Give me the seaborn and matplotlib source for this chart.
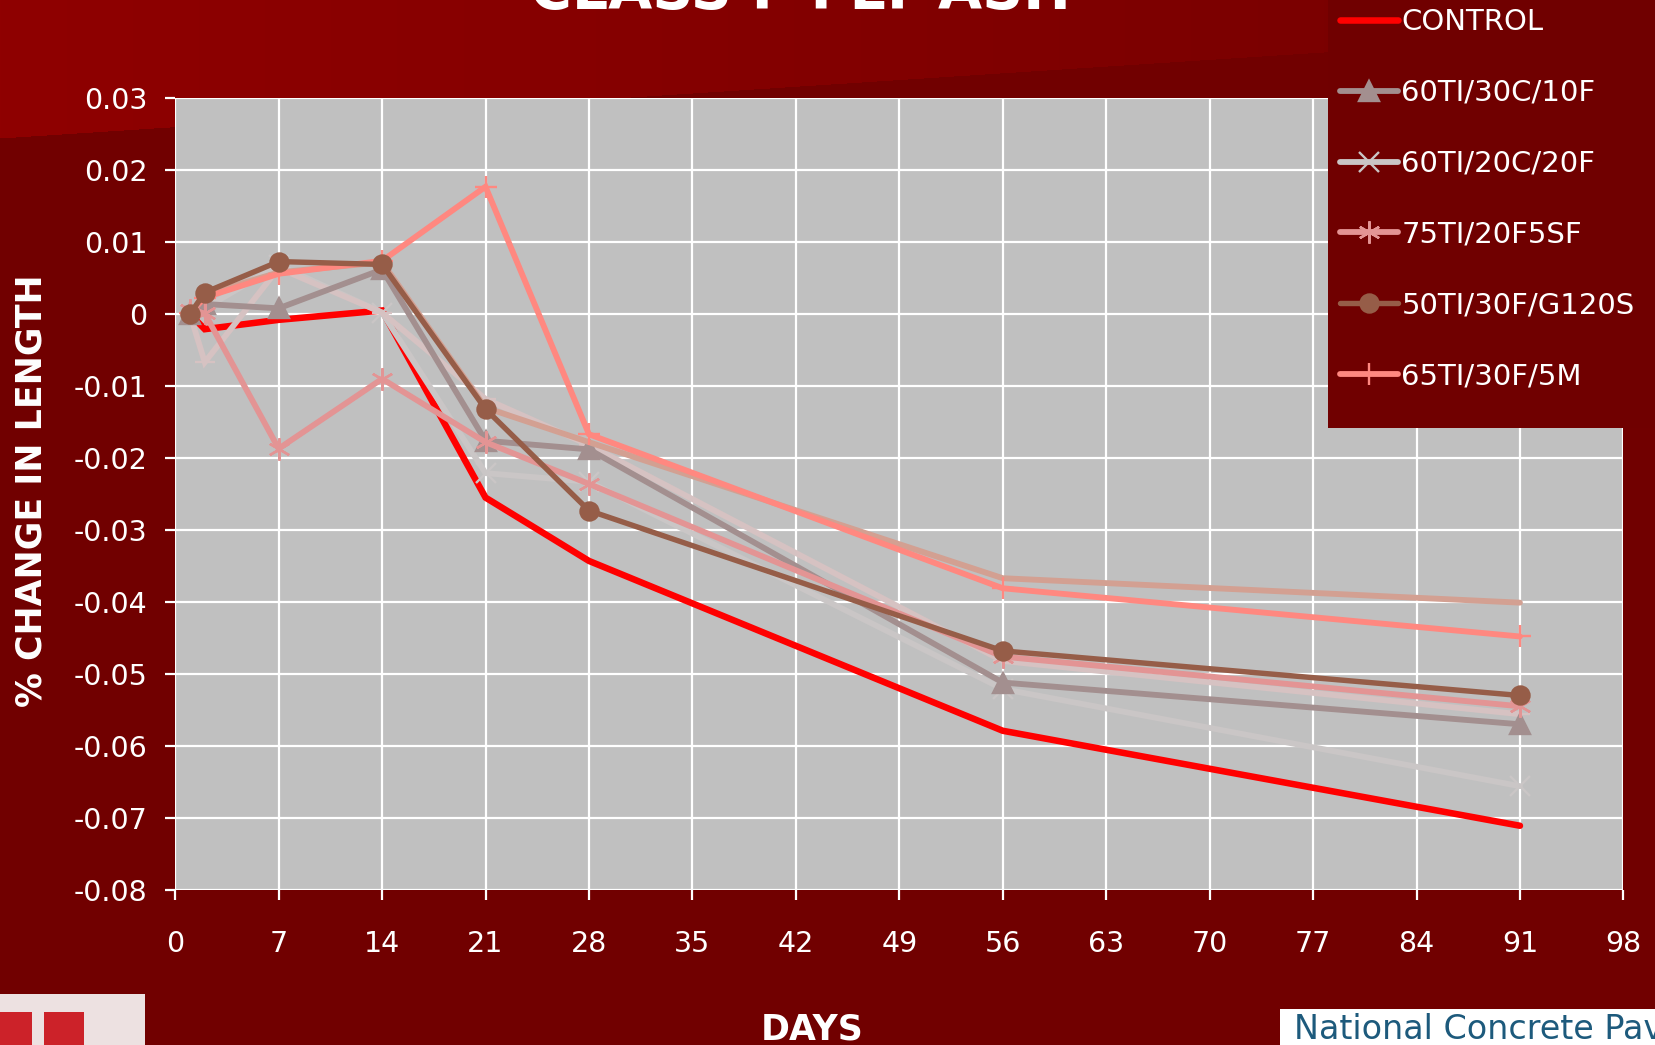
import numpy as np
import pandas as pd
import matplotlib
matplotlib.use("Agg")
import matplotlib.pyplot as plt
import seaborn as sns
from matplotlib.patches import Rectangle
from matplotlib.ticker import FuncFormatter

# ---- data: % change in length vs. age (days) ----
days = [1, 2, 7, 14, 21, 28, 56, 91]

control        = [0.0000, -0.0021, -0.0008, 0.0005, -0.0255, -0.0343, -0.0579, -0.0711]
ti60_c30_f10   = [0.0000, 0.0014, 0.0008, 0.0062, -0.0176, -0.0188, -0.0512, -0.0570]
ti60_c20_f20   = [0.0000, 0.0008, 0.0068, 0.0002, -0.0221, -0.0233, -0.0521, -0.0656]
ti75_f20_sf5   = [0.0005, 0.0001, -0.0187, -0.0090, -0.0178, -0.0236, -0.0476, -0.0545]
ti50_f30_g120s = [0.0000, 0.0030, 0.0073, 0.0069, -0.0132, -0.0273, -0.0468, -0.0530]
ti65_f30_m5    = [0.0001, 0.0023, 0.0056, 0.0074, 0.0177, -0.0167, -0.0381, -0.0448]
mix_7          = [0.0000, 0.0027, 0.0058, 0.0072, -0.0130, -0.0178, -0.0367, -0.0401]
mix_8          = [0.0000, -0.0067, 0.0064, 0.0002, -0.0118, -0.0182, -0.0482, -0.0556]

legend_names = ["CONTROL", "60TI/30C/10F", "60TI/20C/20F",
                "75TI/20F5SF", "50TI/30F/G120S", "65TI/30F/5M"]

x_ticks = list(range(0, 99, 7))
y_ticks = [0.03, 0.02, 0.01, 0.0, -0.01, -0.02, -0.03, -0.04, -0.05, -0.06, -0.07, -0.08]

series = {
    "CONTROL": control,
    "60TI/30C/10F": ti60_c30_f10,
    "60TI/20C/20F": ti60_c20_f20,
    "75TI/20F5SF": ti75_f20_sf5,
    "50TI/30F/G120S": ti50_f30_g120s,
    "65TI/30F/5M": ti65_f30_m5,
    "MIX 7": mix_7,
    "MIX 8": mix_8,
}
df = pd.DataFrame([
    {"mix": name, "day": d, "change": v}
    for name, vals in series.items() for d, v in zip(days, vals)
])

# line styling per mix: colour, marker, marker size, line width
styles = {
    "CONTROL":        ("#FF0000", None,        0,  4.7),
    "60TI/20C/20F":   ("#CAC6C6", "x",         14, 4.2),
    "MIX 7":          ("#D3A092", None,        0,  4.2),
    "MIX 8":          ("#D6C2C2", "_",         15, 4.2),
    "60TI/30C/10F":   ("#A38F8F", "^",         14, 4.2),
    "75TI/20F5SF":    ("#E39494", (6, 2, 0),   16, 4.2),
    "65TI/30F/5M":    ("#FF8880", "+",         16, 4.2),
    "50TI/30F/G120S": ("#965D48", "o",         13, 3.9),
}
draw_order = ["CONTROL", "60TI/20C/20F", "MIX 8", "60TI/30C/10F",
              "MIX 7", "65TI/30F/5M", "75TI/20F5SF", "50TI/30F/G120S"]

sns.set_style("white")
plt.rcParams["font.family"] = ["DejaVu Sans"]

W, H = 1655, 1045
fig = plt.figure(figsize=(W / 100, H / 100), dpi=100)
fig.patch.set_facecolor("#710000")

# slide background: lighter red band across the top with a slanted lower edge
bg = fig.add_axes([0, 0, 1, 1], zorder=-5)
cols = np.arange(W)
rows = np.arange(H)[:, None]
edge = 138 - 0.065 * cols
t = cols / (W - 1)
top_r = (0x8F * (1 - t) + 0x76 * t) / 255.0
img = np.zeros((H, W, 3))
img[..., 0] = np.where(rows < edge[None, :], top_r[None, :], 0x71 / 255.0)
bg.imshow(img, aspect="auto", interpolation="nearest")
bg.set_axis_off()

ax = fig.add_axes([175.2 / W, 1 - 889.8 / H, (1623.4 - 175.2) / W, (889.8 - 98.2) / H])
ax.set_facecolor("#C0C0C0")

lines = {}
for name in draw_order:
    color, marker, ms, lw = styles[name]
    sub = df[df["mix"] == name]
    kw = dict(marker=marker, markersize=ms, markeredgewidth=1.7,
              markerfacecolor=color, markeredgecolor=color) if marker else {}
    sns.lineplot(data=sub, x="day", y="change", ax=ax, color=color, linewidth=lw,
                 legend=False, **kw)
    ln = ax.lines[-1]
    ln.set_label(name)
    ln.set_solid_joinstyle("miter")
    lines[name] = ln

ax.set_xlim(0, 98)
ax.set_ylim(-0.08, 0.03)
ax.set_xticks(x_ticks)
ax.set_yticks(y_ticks)
ax.yaxis.set_major_formatter(FuncFormatter(lambda v, p: "0" if abs(v) < 1e-9 else f"{v:.2f}"))
ax.grid(True, color="white", linewidth=1.6)
ax.set_axisbelow(True)
for s in ax.spines.values():
    s.set_visible(False)
ax.tick_params(axis="both", colors="white", labelcolor="white", labelsize=20.5,
               length=7, width=1.6, direction="out")
ax.tick_params(axis="y", pad=13, left=True)
ax.tick_params(axis="x", pad=22, bottom=True)
ax.set_xlabel("")
ax.set_ylabel("")

# axis titles and heading
fig.text(32 / W, 1 - 491 / H, "% CHANGE IN LENGTH", rotation=90, color="white",
         fontsize=25, fontweight="bold", ha="center", va="center")
fig.text(812 / W, 6 / H, "DAYS", color="white", fontsize=25, fontweight="bold",
         ha="center", va="baseline")
fig.text(800 / W, 1 - 8.5 / H, "CLASS F FLY ASH", color="white", fontsize=41,
         fontweight="bold", ha="center", va="baseline")

# legend panel
fig.patches.append(Rectangle((1328 / W, 1 - 428 / H), 1, 1, transform=fig.transFigure,
                             facecolor="#700000", edgecolor="none", zorder=1))
leg = fig.legend([lines[n] for n in legend_names], legend_names, loc="upper left",
                 bbox_to_anchor=(1340 / W, 1 - 8 / H), frameon=False, fontsize=21,
                 labelcolor="white", handlelength=2.0, handletextpad=0.1,
                 labelspacing=1.47, borderpad=0, borderaxespad=0, numpoints=1)
leg.set_zorder(6)

# footer logos
fig.patches.append(Rectangle((0, 0), 145 / W, 51 / H, transform=fig.transFigure,
                             facecolor="#EDE1E1", edgecolor="none", zorder=2))
fig.patches.append(Rectangle((0, 0), 32 / W, 33 / H, transform=fig.transFigure,
                             facecolor="#CC2229", edgecolor="none", zorder=3))
fig.patches.append(Rectangle((44 / W, 0), 40 / W, 33 / H, transform=fig.transFigure,
                             facecolor="#CC2229", edgecolor="none", zorder=3))
fig.patches.append(Rectangle((1280 / W, 0), 1, 36 / H, transform=fig.transFigure,
                             facecolor="white", edgecolor="none", zorder=2))
fig.text(1294 / W, 6 / H, "National Concrete Pavement Technology Center", color="#1D5A7C",
         fontsize=24, ha="left", va="baseline", zorder=4)

fig.savefig("out.png", dpi=100, facecolor=fig.get_facecolor())
